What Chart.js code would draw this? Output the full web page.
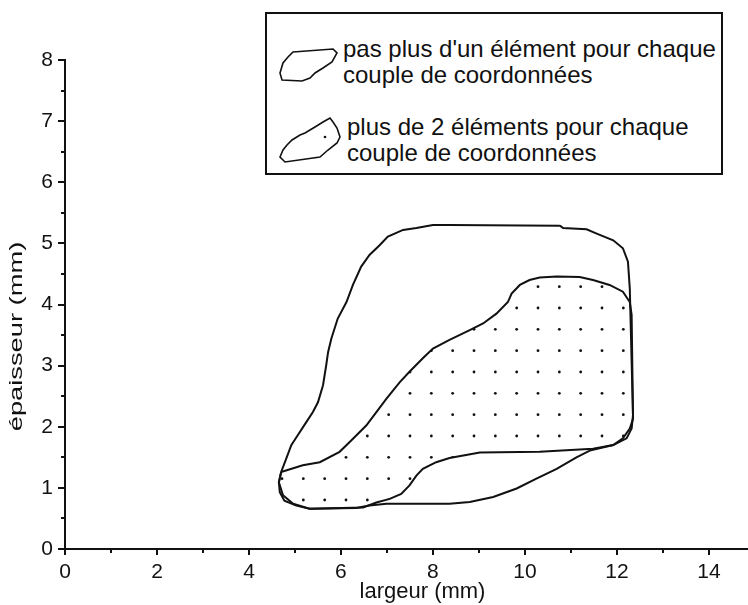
<!DOCTYPE html>
<html lang="fr">
<head>
<meta charset="utf-8">
<title>largeur / épaisseur</title>
<script src="https://cdn.jsdelivr.net/npm/chart.js@4"></script>
<style>
  body { margin: 0; background: #fff; }
  #wrap { position: relative; width: 748px; height: 605px; }
  #legend {
    position: absolute; left: 265px; top: 12px; width: 458px; height: 163px;
    box-sizing: border-box; border: 2px solid #111; background: #fff;
    font-family: "Liberation Sans", Arial, sans-serif; font-size: 24px; line-height: 26px; color: #111;
  }
  #legend .item { position: absolute; white-space: nowrap; }
  #icons { position: absolute; left: 265px; top: 30px; }
</style>
</head>
<body>
<div id="wrap">
  <canvas id="chart" width="748" height="605"></canvas>
  <div id="legend">
    <div class="item" style="left:76px; top:22px">pas plus d'un élément pour chaque<br>couple de coordonnées</div>
    <div class="item" style="left:80px; top:100px">plus de 2 éléments pour chaque<br>couple de coordonnées</div>
  </div>
  <svg id="icons" width="90" height="150" viewBox="0 0 90 150">
    <polygon points="28,22 68,19 72,23 67,32 58,38 50,43 45,48 37,51 17,50 15,43 18,33 23,27"
             fill="none" stroke="#111" stroke-width="1.6"/>
    <polygon points="18,130 20,132 55,127 63,120 72,113 75,107 72,98 68,92 65,88 58,92 50,97 40,103 35,105 27,110 22,115 18,120 15,127"
             fill="none" stroke="#111" stroke-width="1.6"/>
    <circle cx="60" cy="107" r="1.3" fill="#111"/>
  </svg>
</div>
<script>
// contour: pas plus d'un élément par couple (largeur, épaisseur)
const unSeulX = [10.76, 8.36, 8.00, 7.64, 7.35, 7.02, 6.84, 6.62, 6.44, 6.26, 6.12, 5.93, 5.79,
  5.72, 5.68, 5.61, 5.50, 5.39, 5.25, 5.06, 4.92, 4.81, 4.70, 4.65, 4.67, 4.77, 5.03, 5.32,
  6.33, 6.62, 6.99, 8.36, 8.80, 9.31, 9.82, 10.25, 10.69, 11.12, 11.41, 11.92, 12.21, 12.32,
  12.35, 12.32, 12.28, 12.24, 12.13, 11.92, 11.56, 11.34, 10.83];
const unSeulY = [5.29, 5.30, 5.30, 5.25, 5.22, 5.11, 4.97, 4.81, 4.62, 4.32, 4.04, 3.77, 3.44,
  3.22, 3.01, 2.68, 2.40, 2.24, 2.08, 1.86, 1.70, 1.48, 1.26, 1.09, 0.93, 0.79, 0.71, 0.66,
  0.67, 0.71, 0.74, 0.74, 0.77, 0.85, 0.99, 1.15, 1.31, 1.50, 1.61, 1.70, 1.81, 1.97,
  2.19, 3.06, 4.26, 4.70, 4.92, 5.05, 5.16, 5.23, 5.25];

// contour: plus de 2 éléments par couple (zone pointillée)
const plusieursX = [4.70, 5.17, 5.54, 5.97, 6.19, 6.55, 6.77, 6.99, 7.28, 7.49, 7.78, 8.00,
  8.36, 8.80, 9.09, 9.38, 9.63, 9.71, 9.89, 10.10, 10.32, 10.69, 11.19, 11.48, 11.84, 12.13,
  12.28, 12.32, 12.35, 12.28, 12.13, 11.92, 11.48, 10.32, 9.02, 8.36, 8.07, 7.78, 7.64, 7.49,
  7.31, 7.06, 6.77, 6.48, 5.32, 4.96, 4.74, 4.65];
const plusieursY = [1.26, 1.37, 1.42, 1.59, 1.75, 2.02, 2.24, 2.46, 2.73, 2.90, 3.12, 3.28,
  3.42, 3.58, 3.69, 3.85, 4.04, 4.18, 4.32, 4.40, 4.44, 4.46, 4.45, 4.40, 4.32, 4.21,
  4.04, 3.83, 2.13, 1.97, 1.81, 1.70, 1.64, 1.59, 1.58, 1.49, 1.42, 1.31, 1.20, 1.04,
  0.90, 0.82, 0.76, 0.68, 0.66, 0.74, 0.88, 1.09];

// graduations portant un libellé
const xLabels = [0, 2, 4, 6, 8, 10, 12, 14];
const yLabels = [0, 1, 2, 3, 4, 5, 6, 7, 8];

const FONT = '"Liberation Sans", Arial, sans-serif';

function closedPath(xs, ys) {
  const pts = xs.map((x, i) => ({ x, y: ys[i] }));
  pts.push(pts[0]);
  return pts;
}

// motif de points pour le remplissage (tuile de 3 x 3 points)
function dotPattern() {
  const c = document.createElement('canvas');
  c.width = 64; c.height = 64;
  const g = c.getContext('2d');
  g.fillStyle = '#111';
  const pos = [4.67, 26, 47.33];
  const posY = [9.33, 30.67, 52];
  pos.forEach(px => posY.forEach(py => {
    g.beginPath(); g.arc(px, py, 1.4, 0, Math.PI * 2); g.fill();
  }));
  return g.createPattern(c, 'repeat');
}

// petites et grandes graduations + titres des axes
const axesDecor = {
  id: 'axesDecor',
  afterDraw(chart) {
    const { ctx, chartArea: a, scales: { x, y } } = chart;
    ctx.save();
    ctx.strokeStyle = '#111';
    ctx.lineWidth = 2;
    ctx.beginPath();
    x.ticks.forEach(t => {
      const px = Math.round(x.getPixelForValue(t.value));
      const len = xLabels.includes(t.value) ? 6 : 4;
      ctx.moveTo(px, a.bottom); ctx.lineTo(px, a.bottom + len);
    });
    y.ticks.forEach(t => {
      const py = Math.round(y.getPixelForValue(t.value));
      const len = yLabels.includes(t.value) ? 7 : 4;
      ctx.moveTo(a.left, py); ctx.lineTo(a.left - len, py);
    });
    ctx.stroke();

    ctx.fillStyle = '#111';
    ctx.textAlign = 'center';
    ctx.textBaseline = 'middle';
    ctx.font = '22px ' + FONT;
    ctx.fillText('largeur (mm)', (a.left + a.right) / 2 + 16, a.bottom + 43);

    ctx.translate(17, (a.top + a.bottom) / 2 + 32);
    ctx.rotate(-Math.PI / 2);
    ctx.scale(1.24, 0.8);
    ctx.fillText('épaisseur (mm)', 0, 0);
    ctx.restore();
  }
};

const ctx = document.getElementById('chart').getContext('2d');
new Chart(ctx, {
  type: 'scatter',
  data: {
    datasets: [
      {
        label: "plus de 2 éléments pour chaque couple de coordonnées",
        data: closedPath(plusieursX, plusieursY),
        showLine: true,
        tension: 0,
        borderColor: '#111',
        borderWidth: 2,
        backgroundColor: dotPattern(),
        fill: 'shape',
        pointRadius: 0
      },
      {
        label: "pas plus d'un élément pour chaque couple de coordonnées",
        data: closedPath(unSeulX, unSeulY),
        showLine: true,
        tension: 0,
        borderColor: '#111',
        borderWidth: 2,
        fill: false,
        pointRadius: 0
      }
    ]
  },
  options: {
    responsive: false,
    animation: false,
    layout: { padding: { top: 60, left: 0, right: 0, bottom: 0 } },
    plugins: { legend: { display: false }, tooltip: { enabled: false } },
    scales: {
      x: {
        type: 'linear',
        min: 0,
        max: 14.85,
        afterFit: s => { s.height = 56; },
        border: { display: true, color: '#111', width: 2 },
        grid: { drawOnChartArea: false, tickLength: 7, tickColor: 'rgba(0,0,0,0)' },
        ticks: {
          stepSize: 1,
          includeBounds: false,
          autoSkip: false,
          maxRotation: 0,
          padding: 4,
          color: '#111',
          font: { family: FONT, size: 21 },
          callback: v => xLabels.includes(v) ? String(v) : ''
        }
      },
      y: {
        type: 'linear',
        min: 0,
        max: 8,
        afterFit: s => { s.width = 65; },
        border: { display: true, color: '#111', width: 2 },
        grid: { drawOnChartArea: false, tickLength: 7, tickColor: 'rgba(0,0,0,0)' },
        ticks: {
          stepSize: 0.5,
          autoSkip: false,
          padding: 5,
          color: '#111',
          font: { family: FONT, size: 21 },
          callback: v => yLabels.includes(v) ? String(v) : ''
        }
      }
    }
  },
  plugins: [axesDecor]
});
</script>
</body>
</html>
